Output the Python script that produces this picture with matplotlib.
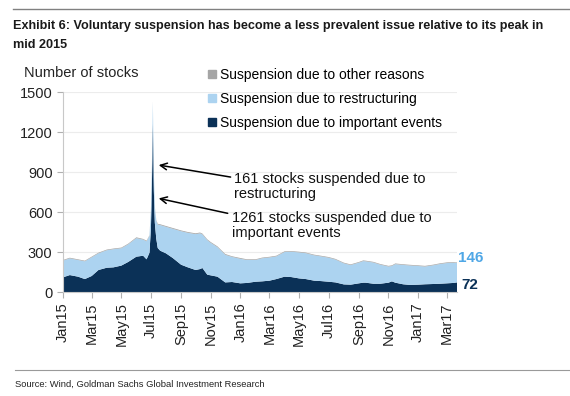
import numpy as np
import pandas as pd
import matplotlib
matplotlib.use('Agg')
from matplotlib import pyplot as plt
import matplotlib.dates as mdates
from matplotlib.lines import Line2D

# readings (number of suspended stocks)
dates = pd.to_datetime([
    '2015-01-01', '2015-01-15', '2015-02-01', '2015-02-15', '2015-03-01', '2015-03-15',
    '2015-04-01', '2015-04-15', '2015-05-01', '2015-05-15', '2015-06-01', '2015-06-15',
    '2015-06-22', '2015-06-28', '2015-07-01', '2015-07-03', '2015-07-05', '2015-07-07',
    '2015-07-09', '2015-07-12', '2015-07-15', '2015-07-20', '2015-08-01', '2015-08-15',
    '2015-09-01', '2015-09-15', '2015-10-01', '2015-10-10', '2015-10-15', '2015-10-25',
    '2015-11-01', '2015-11-15', '2015-12-01', '2015-12-15', '2016-01-01', '2016-01-15',
    '2016-02-01', '2016-02-15', '2016-03-01', '2016-03-15', '2016-04-01', '2016-04-15',
    '2016-05-01', '2016-05-15', '2016-06-01', '2016-06-15', '2016-07-01', '2016-07-15',
    '2016-08-01', '2016-08-15', '2016-09-01', '2016-09-10', '2016-09-15', '2016-10-01',
    '2016-10-15', '2016-11-01', '2016-11-08', '2016-11-15', '2016-12-01', '2016-12-15',
    '2017-01-01', '2017-01-15', '2017-02-01', '2017-02-15', '2017-03-01', '2017-03-15',
    '2017-03-22'])

important = [
    110, 127, 115, 97, 120, 165,
    182, 185, 198, 225, 265, 272,
    245, 295, 480, 800, 1261, 760,
    520, 400, 330, 310, 290, 255,
    205, 185, 165, 172, 180, 130,
    125, 115, 72, 75, 65, 68,
    77, 80, 85, 97, 115, 112,
    102, 97, 85, 82, 77, 72,
    57, 55, 65, 70, 70, 62,
    62, 70, 80, 70, 58, 53,
    55, 58, 60, 62, 65, 68,
    72]

restructuring = [
    125, 125, 125, 133, 140, 125,
    131, 136, 130, 132, 139, 121,
    135, 125, 135, 145, 161, 135,
    115, 135, 176, 192, 199, 219,
    251, 259, 269, 268, 252, 259,
    244, 221, 207, 188, 184, 172,
    163, 173, 174, 170, 185, 190,
    195, 194, 190, 185, 180, 171,
    158, 147, 155, 162, 160, 159,
    143, 121, 115, 139, 145, 146,
    140, 133, 140, 148, 152, 151,
    146]

other = [
    5, 5, 5, 5, 5, 5,
    5, 5, 5, 5, 6, 5,
    5, 5, 5, 5, 5, 5,
    5, 5, 6, 6, 6, 6,
    6, 6, 6, 6, 6, 6,
    6, 6, 6, 5, 6, 5,
    5, 5, 5, 5, 5, 5,
    5, 5, 5, 5, 5, 5,
    5, 5, 5, 5, 5, 5,
    5, 5, 5, 5, 5, 5,
    5, 5, 5, 5, 5, 5,
    4]

series_labels = ['Suspension due to important events',
                 'Suspension due to restructuring',
                 'Suspension due to other reasons']
navy = '#0b3157'
light = '#acd3f0'
grey = '#a5a5a5'

plt.rcParams['font.family'] = ['Liberation Sans', 'DejaVu Sans']
narrow = ['Liberation Sans Narrow', 'Liberation Sans', 'DejaVu Sans']


def fit_width(txt, target_px):
    # shrink/grow a text so that it spans target_px pixels
    r = fig.canvas.get_renderer()
    w = txt.get_window_extent(r).width
    txt.set_fontsize(txt.get_fontsize() * target_px / w)
    return txt.get_fontsize()


fig = plt.figure(figsize=(5.7, 3.96), dpi=100)
ax = fig.add_axes([63 / 570, 1 - 292 / 396, 394 / 570, 200 / 396])

ax.stackplot(dates, important, restructuring, other,
             colors=[navy, light, grey], linewidth=0)

ax.set_ylim(0, 1500)
ax.set_yticks(np.arange(0, 1501, 300))
ax.set_xlim(dates[0], dates[-1])
ax.xaxis.set_major_locator(mdates.MonthLocator(bymonth=[1, 3, 5, 7, 9, 11]))
ax.xaxis.set_major_formatter(mdates.DateFormatter('%b%y'))
plt.setp(ax.get_xticklabels(), rotation=90)

ax.grid(axis='y', color='#ececec', linewidth=0.8)
ax.set_axisbelow(True)
for side in ['top', 'right']:
    ax.spines[side].set_visible(False)
ax.spines['left'].set_color('#c8c8c8')
ax.spines['bottom'].set_color('#c8c8c8')
ax.tick_params(axis='both', colors='#b0b0b0', labelcolor='#222222',
               labelsize=10.5, length=4, width=0.8)

# annotations for the July 2015 peak
arrow = dict(arrowstyle='->', color='black', lw=1.1, shrinkA=0, shrinkB=0, mutation_scale=12)
ax.annotate('', xy=(pd.Timestamp('2015-07-17'), 952), xytext=(pd.Timestamp('2015-12-12'), 862),
            arrowprops=arrow)
ax.annotate('', xy=(pd.Timestamp('2015-07-17'), 702), xytext=(pd.Timestamp('2015-12-06'), 590),
            arrowprops=arrow)
ax.text(pd.Timestamp('2015-12-20'), 790, '161 stocks suspended due to\nrestructuring',
        fontsize=10.5, color='#111111', va='center', linespacing=1.05)
ax.text(pd.Timestamp('2015-12-14'), 500, '1261 stocks suspended due to\nimportant events',
        fontsize=10.5, color='#111111', va='center', linespacing=1.05)

# latest values at the right end
ax.text(1.002, (important[-1] + restructuring[-1] + 40) / 1500, str(restructuring[-1]),
        transform=ax.transAxes, color='#4fa7e6', fontsize=11, fontweight='bold', va='center')
ax.text(1.01, important[-1] / 1500 - 0.012, str(important[-1]),
        transform=ax.transAxes, color=navy, fontsize=11, fontweight='bold', va='center')

handles = [Line2D([], [], marker='s', linestyle='none', markersize=6, color=c)
           for c in [grey, light, navy]]
ax.legend(handles, series_labels[::-1], loc='upper left',
          bbox_to_anchor=(208 / 570, 1 - 68 / 396), bbox_transform=fig.transFigure,
          frameon=False, fontsize=10, handlelength=0.6, handletextpad=0.3,
          borderpad=0, borderaxespad=0, labelspacing=0.72)

fig.text(24 / 570, 1 - 73 / 396, 'Number of stocks', fontsize=10.5, color='#222222', va='center')

t1 = fig.text(13 / 570, 1 - 26 / 396,
              'Exhibit 6: Voluntary suspension has become a less prevalent issue relative to its peak in',
              fontsize=10.5, fontweight='bold', family=narrow, color='#1a1a1a', va='center')
title_size = fit_width(t1, 535)
fig.text(13 / 570, 1 - 45 / 396, 'mid 2015', fontsize=title_size, fontweight='bold',
         family=narrow, color='#1a1a1a', va='center')
src = fig.text(15 / 570, 1 - 384 / 396, 'Source: Wind, Goldman Sachs Global Investment Research',
               fontsize=7.5, family=narrow, color='#222222', va='center')
fit_width(src, 248)

fig.add_artist(Line2D([13 / 570, 1], [1 - 9 / 396, 1 - 9 / 396], color='#808080', lw=1))
fig.add_artist(Line2D([15 / 570, 1], [1 - 370 / 396, 1 - 370 / 396], color='#9a9a9a', lw=0.8))

fig.savefig('out.png', dpi=100)
